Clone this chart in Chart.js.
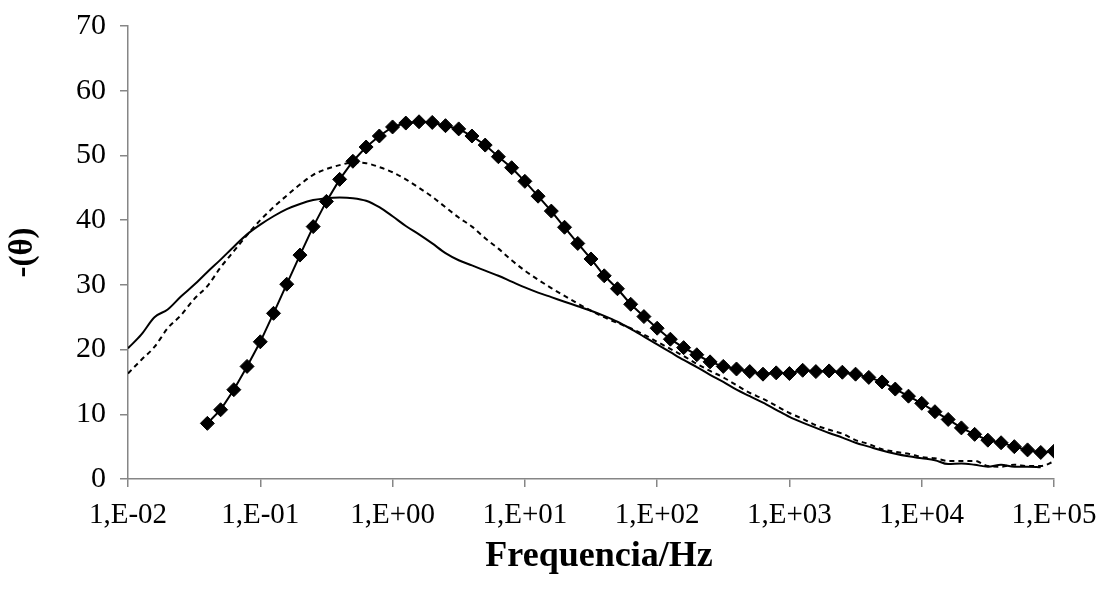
<!DOCTYPE html>
<html>
<head>
<meta charset="utf-8">
<script src="https://cdn.jsdelivr.net/npm/chart.js@4.4.0/dist/chart.umd.min.js"></script>
<style>
html,body{margin:0;padding:0;background:#fff}
#wrap{width:1102px;height:599px}
</style>
</head>
<body>
<div id="wrap"><canvas id="chart" width="1102" height="599"></canvas></div>
<script>

// frequency grid, 10 points per decade
const freq=[
0.01,0.01259,0.01585,0.01995,0.02512,0.03162,0.03981,0.05012,0.0631,0.07943,
0.1,0.1259,0.1585,0.1995,0.2512,0.3162,0.3981,0.5012,0.631,0.7943,
1,1.259,1.585,1.995,2.512,3.162,3.981,5.012,6.31,7.943,
10,12.59,15.85,19.95,25.12,31.62,39.81,50.12,63.1,79.43,
100,125.9,158.5,199.5,251.2,316.2,398.1,501.2,631,794.3,
1000,1259,1585,1995,2512,3162,3981,5012,6310,7943,
10000,12590,15850,19950,25120,31620,39810,50120,63100,79430,
100000
]

const solidTheta=[
20.2,22.3,25.0,26.2,28.2,30.0,32.0,33.9,35.9,37.8,
39.3,40.6,41.7,42.5,43.1,43.4,43.5,43.4,43.0,42.0,
40.6,39.1,37.8,36.4,34.9,33.8,33.0,32.2,31.4,30.5,
29.6,28.8,28.1,27.4,26.7,26.0,25.2,24.3,23.2,22.0,
20.8,19.6,18.4,17.3,16.1,15.0,13.8,12.8,11.8,10.7,
9.6,8.7,7.9,7.1,6.4,5.6,5.0,4.4,3.9,3.5,
3.2,2.9,2.3,2.4,2.2,1.9,2.2,1.9,1.9,1.8,
null
]

const dashedTheta=[
16.3,18.4,20.4,23.3,25.3,27.8,29.8,32.7,35.2,37.7,
40.0,42.0,43.8,45.5,47.0,47.9,48.5,48.9,48.8,48.2,
47.4,46.3,45.0,43.6,42.0,40.4,39.0,37.2,35.6,33.8,
32.2,30.8,29.5,28.3,27.1,26.0,25.0,24.1,23.3,22.3,
21.2,20.1,19.0,17.8,16.7,15.7,14.5,13.3,12.4,11.3,
10.2,9.3,8.3,7.6,7.0,6.0,5.4,4.6,4.2,3.9,
3.4,3.2,2.8,2.8,2.8,2.0,1.9,2.2,2.0,2.0,
2.7
]

const diamondTheta=[
null,null,null,null,null,null,8.6,10.7,13.8,17.4,
21.2,25.6,30.1,34.6,39.0,42.9,46.3,49.1,51.3,53.0,
54.4,55.0,55.2,55.1,54.6,54.1,53.0,51.6,49.8,48.1,
46.0,43.7,41.4,38.9,36.4,34.0,31.4,29.4,27.0,25.1,
23.3,21.6,20.3,19.2,18.1,17.4,17.0,16.6,16.2,16.4,
16.3,16.8,16.6,16.7,16.5,16.2,15.7,15.0,13.9,12.8,
11.7,10.4,9.2,7.9,6.9,6.0,5.6,5.0,4.5,4.1,
4.3
]

const xTickValues=[0.01,0.1,1,10,100,1000,10000,100000]
const xTickLabels=["1,E-02","1,E-01","1,E+00","1,E+01","1,E+02","1,E+03","1,E+04","1,E+05"]
const xTitle="Frequencia/Hz"
const yTitle="-(θ)"

const family="'Liberation Serif','Times New Roman',serif"
const axisGrey="#868686"

function points(values)
{
let out=[]
for(let i=0;i<freq.length;i++)
{
out.push({x:freq[i],y:values[i]})
}
return out
}

// x title sits a little right of the plot centre in the original
const xTitlePlugin=
{
id:"xTitle",
afterDraw(chart)
{
const c=chart.ctx
c.save()
c.font="bold 36px "+family
c.fillStyle="#000"
c.textAlign="center"
c.textBaseline="middle"
c.fillText(xTitle,599,557)
c.restore()
}
}

const ctx=document.getElementById("chart")

new Chart(ctx,
{
type:"line",
data:
{
datasets:[
{
label:"diamonds",
data:points(diamondTheta),
borderColor:"#000",
backgroundColor:"#000",
borderWidth:2,
pointStyle:"rectRot",
pointRadius:7,
pointBorderWidth:1,
tension:0
},
{
label:"dashed",
data:points(dashedTheta),
borderColor:"#000",
borderWidth:2,
borderDash:[5,4],
pointRadius:0,
cubicInterpolationMode:"monotone"
},
{
label:"solid",
data:points(solidTheta),
borderColor:"#000",
borderWidth:2,
pointRadius:0,
cubicInterpolationMode:"monotone"
}
]
},
plugins:[xTitlePlugin],
options:
{
responsive:false,
animation:false,
layout:{padding:{top:26,right:48,left:0,bottom:0}},
plugins:{legend:{display:false},tooltip:{enabled:false}},
scales:
{
x:
{
type:"logarithmic",
min:0.01,
max:100000,
afterBuildTicks:function(scale){scale.ticks=xTickValues.map(v=>({value:v}))},
afterFit:function(scale){scale.height=120;scale.paddingLeft=0;scale.paddingRight=0},
ticks:
{
callback:function(v,i){return xTickLabels[i]},
font:{family:family,size:29},
color:"#000",
padding:11,
maxRotation:0,
autoSkip:false
},
grid:{drawOnChartArea:false,tickLength:8,color:axisGrey,lineWidth:1.5},
border:{color:axisGrey,width:1.5}
},
y:
{
min:0,
max:70,
afterFit:function(scale){scale.width=128;scale.paddingTop=0;scale.paddingBottom=0},
ticks:{stepSize:10,font:{family:family,size:30},color:"#000",padding:14},
grid:{drawOnChartArea:false,tickLength:8,color:axisGrey,lineWidth:1.5},
border:{color:axisGrey,width:1.5},
title:{display:true,text:yTitle,color:"#000",font:{family:family,size:33,weight:"bold"},padding:{top:4,bottom:0}}
}
}
}
})

</script>
</body>
</html>
